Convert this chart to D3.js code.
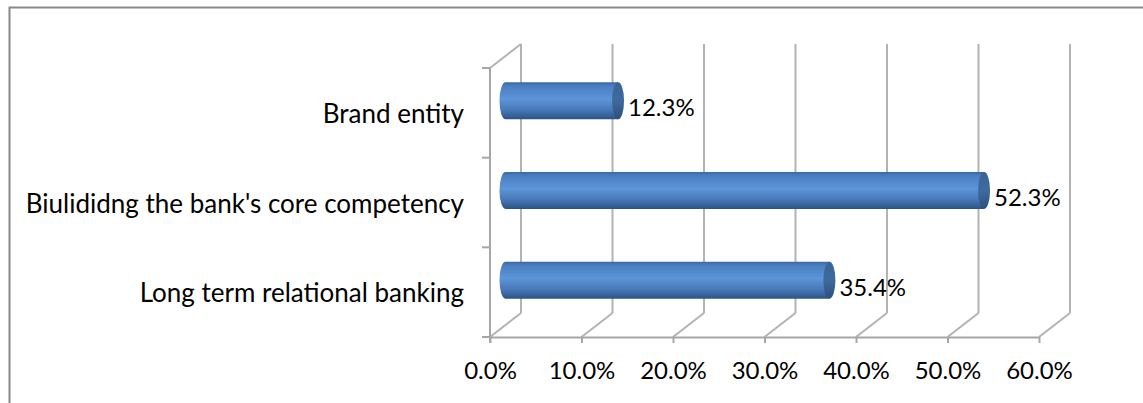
<!DOCTYPE html>
<html>
<head>
<meta charset="utf-8">
<script src="https://cdnjs.cloudflare.com/ajax/libs/d3/7.8.5/d3.min.js"></script>
<style>
  body { margin: 0; background: #fff; }
  text { font-family: Lato, "Open Sans", sans-serif; fill: #000; }
</style>
</head>
<body>
<div id="chart"></div>
<script>
// data
const categories = ["Long term relational banking", "Biulididng the bank's core competency", "Brand entity"];
const values = [0.354, 0.523, 0.123];
const xTicks = [0, 0.1, 0.2, 0.3, 0.4, 0.5, 0.6];

const width = 1143, height = 403;
const depth = {dx: 31, dy: -24};
const labelSize = 26, numSize = 24;

const svg = d3.select("#chart").append("svg")
    .attr("width", width)
    .attr("height", height);

// outer frame
svg.append("rect")
    .attr("x", 9.5).attr("y", 7.5)
    .attr("width", 1300).attr("height", 600)
    .attr("fill", "none")
    .attr("stroke", "#888")
    .attr("stroke-width", 2);

const x = d3.scaleLinear().domain([0, 0.6]).range([490, 1039]);
const y = d3.scaleBand().domain(categories.slice().reverse()).range([68, 337]);
const y0 = 337;

// gradients
const defs = svg.append("defs");
const body = defs.append("linearGradient").attr("id", "barBody")
    .attr("x1", 0).attr("y1", 0).attr("x2", 0).attr("y2", 1);
[[0, "#3a68a3"], [0.1, "#4a7ec0"], [0.45, "#5d95d8"], [0.75, "#4778b8"], [1, "#2b5285"]]
    .forEach(s => body.append("stop").attr("offset", s[0]).attr("stop-color", s[1]));
const cap = defs.append("linearGradient").attr("id", "barCap")
    .attr("x1", 0).attr("y1", 0).attr("x2", 0).attr("y2", 1);
[[0, "#3b6496"], [0.5, "#3f6a9e"], [1, "#2c4f7d"]]
    .forEach(s => cap.append("stop").attr("offset", s[0]).attr("stop-color", s[1]));

const grid = svg.append("g")
    .attr("stroke", "#b3b3b3")
    .attr("stroke-width", 2)
    .attr("fill", "none");

// back wall verticals + floor diagonals
xTicks.forEach(t => {
    grid.append("line")
        .attr("x1", x(t) + depth.dx).attr("x2", x(t) + depth.dx)
        .attr("y1", 68 + depth.dy).attr("y2", y0 + depth.dy);
    grid.append("line")
        .attr("x1", x(t)).attr("y1", y0)
        .attr("x2", x(t) + depth.dx).attr("y2", y0 + depth.dy);
});
// left wall top edge
grid.append("line")
    .attr("x1", x(0)).attr("y1", 68)
    .attr("x2", x(0) + depth.dx).attr("y2", 68 + depth.dy);

// y axis (front left edge)
const yAxisG = svg.append("g").attr("stroke", "#a6a6a6").attr("stroke-width", 2);
yAxisG.append("line").attr("x1", x(0)).attr("x2", x(0)).attr("y1", 68).attr("y2", y0 + 6);
[68].concat(categories.map(c => y(c) + y.bandwidth())).forEach(v => {
    yAxisG.append("line").attr("x1", x(0) - 8).attr("x2", x(0)).attr("y1", v).attr("y2", v);
});

// x axis
const xAxis = d3.axisBottom(x)
    .tickValues(xTicks)
    .tickFormat(d3.format(".1%"))
    .tickSize(6)
    .tickSizeOuter(0)
    .tickPadding(19);
const xg = svg.append("g")
    .attr("transform", "translate(0," + y0 + ")")
    .call(xAxis);
xg.selectAll("path, line").attr("stroke", "#a6a6a6").attr("stroke-width", 2);
xg.selectAll("text")
    .style("font-size", numSize + "px")
    .attr("fill", "#000")
    .attr("font-family", "Lato, sans-serif");

// category labels
svg.append("g").selectAll("text")
    .data(categories)
    .enter().append("text")
    .attr("x", 464)
    .attr("y", d => y(d) + y.bandwidth() / 2 + 10)
    .attr("text-anchor", "end")
    .style("font-size", labelSize + "px")
    .text(d => d);

// bars (cylinders at mid depth)
const barH = 37, rx = 6;
const bars = svg.append("g").selectAll("g")
    .data(categories.map((c, i) => ({c: c, v: values[i]})))
    .enter().append("g");

bars.each(function(d) {
    const g = d3.select(this);
    const cy = y(d.c) + y.bandwidth() / 2 + depth.dy / 2;
    const xa = x(0) + depth.dx / 2, xb = x(d.v) + depth.dx / 2;
    g.append("path")
        .attr("d", "M" + xb + "," + (cy - barH / 2) +
            "H" + xa +
            "A" + rx + "," + (barH / 2) + " 0 0 0 " + xa + "," + (cy + barH / 2) +
            "H" + xb + "Z")
        .attr("fill", "url(#barBody)");
    g.append("ellipse")
        .attr("cx", xb).attr("cy", cy)
        .attr("rx", rx).attr("ry", barH / 2)
        .attr("fill", "url(#barCap)");
    g.append("text")
        .attr("x", xb + rx + 4)
        .attr("y", cy + 15.5)
        .style("font-size", numSize + "px")
        .text(d3.format(".1%")(d.v));
});
</script>
</body>
</html>
